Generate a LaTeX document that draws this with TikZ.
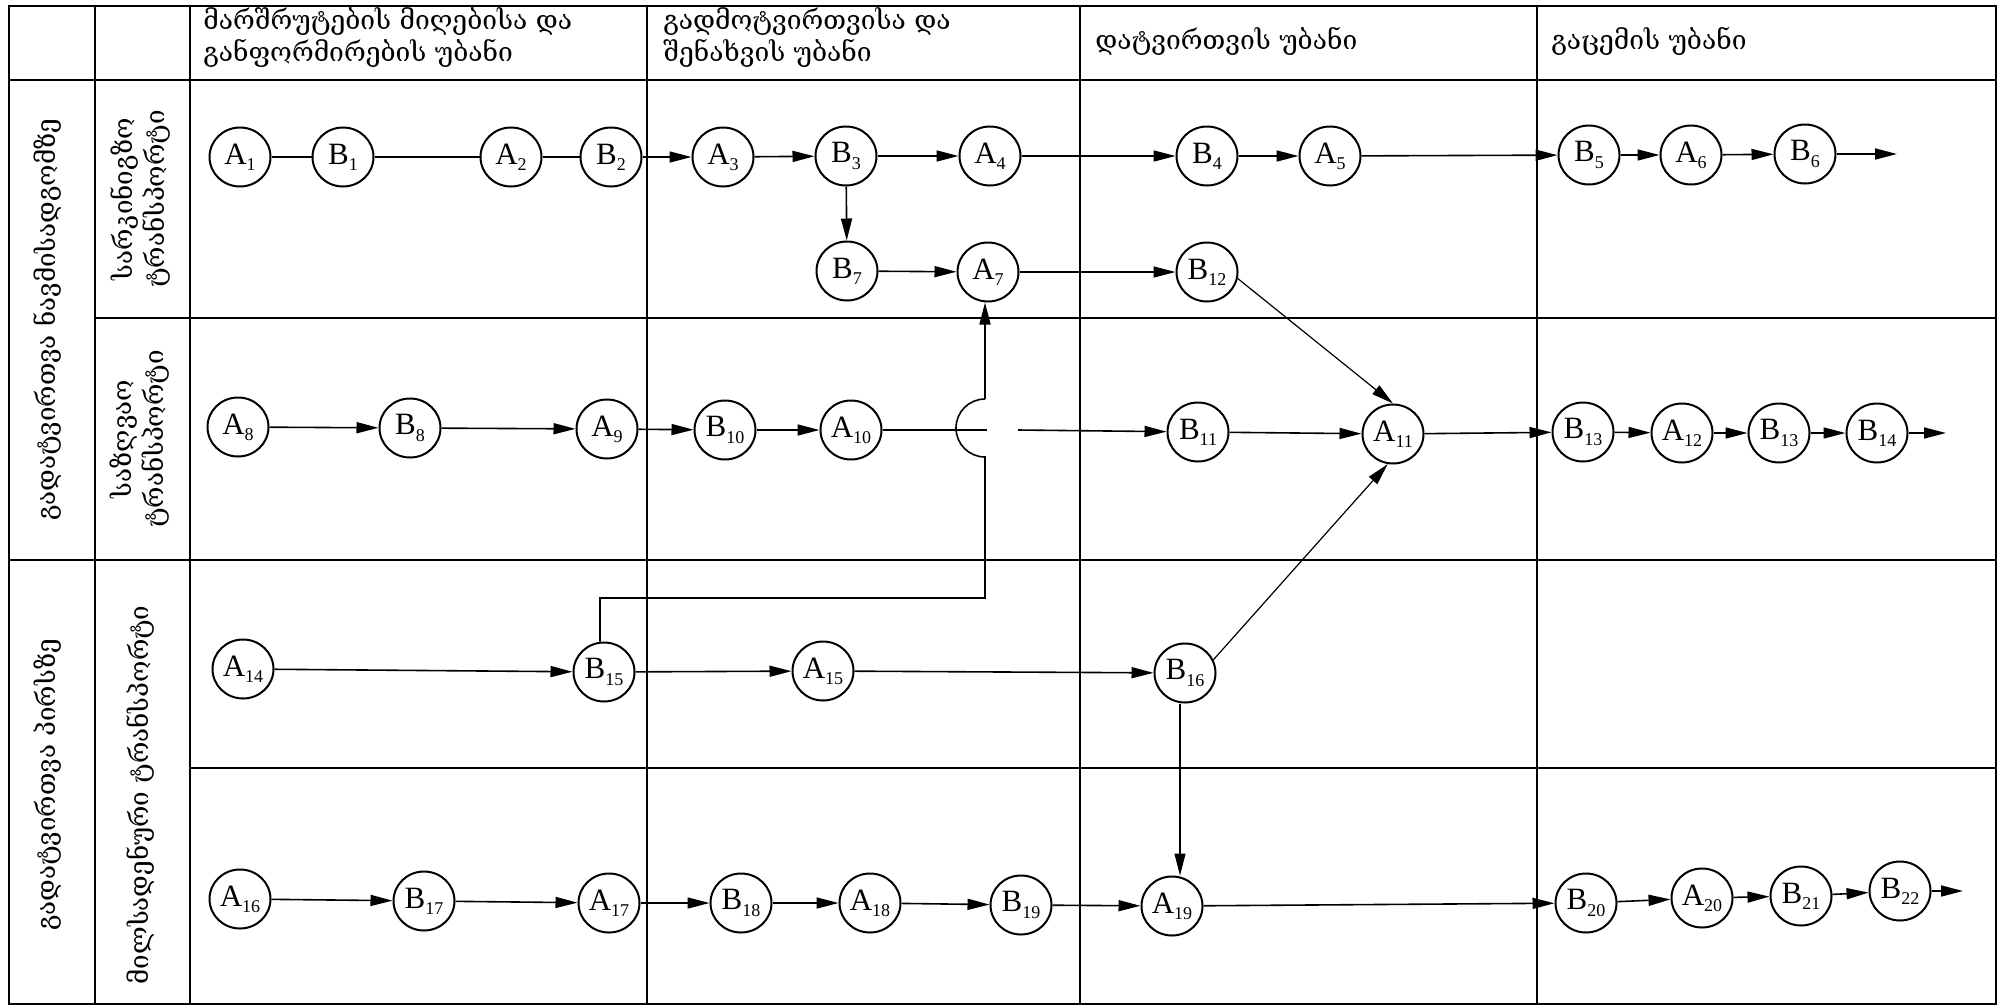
\documentclass[tikz,border=0pt]{standalone}
\usepackage{fontspec}
\setmainfont{Liberation Serif}
\newfontfamily\geo{DejaVu Serif}
\usetikzlibrary{shapes.geometric,arrows.meta}
\newcommand{\lbl}[2]{#1\raisebox{-0.2em}{\fontsize{9}{9}\selectfont #2}}

\begin{document}
\begin{tikzpicture}[x=0.5pt,y=0.5pt,
  nd/.style={ellipse,draw,line width=1pt,minimum width=30.5pt,minimum height=29.5pt,
             inner sep=0pt,font=\fontsize{15.5}{15.5}\selectfont},
  gridline/.style={line width=0.9pt},
  conn/.style={line width=0.8pt},
  arr/.style={conn,-{Triangle[length=11pt,width=5.5pt]}},
  head/.style={anchor=west,align=left,inner sep=0pt,font=\geo\fontsize{13.2}{16}\selectfont},
  side/.style={rotate=90,align=center,inner sep=0pt,font=\geo\fontsize{13}{16}\selectfont}]

\useasboundingbox (0,0) rectangle (2002,-1007);

% table frame
\draw[gridline] (9,-6) rectangle (1996,-1004);
\draw[gridline] (9,-80) -- (1996,-80);
\foreach \x in {95,190,647,1080,1537}
  \draw[gridline] (\x,-6) -- (\x,-1004);
\draw[gridline] (95,-318) -- (1996,-318);
\draw[gridline] (9,-560) -- (1996,-560);
\draw[gridline] (190,-768) -- (1996,-768);

% column headings
\node[head] (h1) at (203,-38) {მარშრუტების მიღებისა და\\განფორმირების უბანი};
\node[head] (h2) at (663,-38) {გადმოტვირთვისა და\\შენახვის უბანი};
\node[head] (h3) at (1095,-41) {დატვირთვის უბანი};
\node[head] (h4) at (1551,-41) {გაცემის უბანი};

% row headings
\node[side] (s1) at (48,-320) {გადატვირთვა ნავმისადგომზე};
\node[side] (s2) at (48,-785) {გადატვირთვა პირსზე};
\node[side] (s3) at (140,-199) {სარკინიგზო\\ტრანსპორტი};
\node[side] (s4) at (140,-439) {საზღვაო\\ტრანსპორტი};
\node[side] (s5) at (140,-795) {მილსადენური ტრანსპორტი};

% railway
\node[nd] (A1) at (240,-157) {\lbl{A}{1}};
\node[nd] (B1) at (343,-157) {\lbl{B}{1}};
\node[nd] (A2) at (511,-157) {\lbl{A}{2}};
\node[nd] (B2) at (611,-157) {\lbl{B}{2}};
\node[nd] (A3) at (723,-157) {\lbl{A}{3}};
\node[nd] (B3) at (846,-156) {\lbl{B}{3}};
\node[nd] (A4) at (990,-156) {\lbl{A}{4}};
\node[nd] (B4) at (1207,-156) {\lbl{B}{4}};
\node[nd] (A5) at (1330,-156) {\lbl{A}{5}};
\node[nd] (B5) at (1589,-155) {\lbl{B}{5}};
\node[nd] (A6) at (1691,-155) {\lbl{A}{6}};
\node[nd] (B6) at (1805,-154) {\lbl{B}{6}};
\coordinate (e1) at (1897,-154);
\node[nd] (B7) at (847,-271) {\lbl{B}{7}};
\node[nd] (A7) at (988,-272) {\lbl{A}{7}};
\node[nd] (B12) at (1207,-272) {\lbl{B}{12}};

% sea
\node[nd] (A8) at (238,-427) {\lbl{A}{8}};
\node[nd] (B8) at (410,-428) {\lbl{B}{8}};
\node[nd] (A9) at (607,-429) {\lbl{A}{9}};
\node[nd] (B10) at (725,-430) {\lbl{B}{10}};
\node[nd] (A10) at (851,-430) {\lbl{A}{10}};
\node[nd] (B11) at (1198,-432) {\lbl{B}{11}};
\node[nd] (A11) at (1393,-434) {\lbl{A}{11}};
\node[nd] (B13) at (1583,-432) {\lbl{B}{13}};
\node[nd] (A12) at (1682,-433) {\lbl{A}{12}};
\node[nd] (B13b) at (1779,-433) {\lbl{B}{13}};
\node[nd] (B14) at (1877,-433) {\lbl{B}{14}};
\coordinate (e2) at (1946,-433);

% pipeline, upper row
\node[nd] (A14) at (243,-669) {\lbl{A}{14}};
\node[nd] (B15) at (604,-672) {\lbl{B}{15}};
\node[nd] (A15) at (823,-671) {\lbl{A}{15}};
\node[nd] (B16) at (1185,-673) {\lbl{B}{16}};

% pipeline, lower row
\node[nd] (A16) at (240,-899) {\lbl{A}{16}};
\node[nd] (B17) at (424,-901) {\lbl{B}{17}};
\node[nd] (A17) at (609,-903) {\lbl{A}{17}};
\node[nd] (B18) at (741,-903) {\lbl{B}{18}};
\node[nd] (A18) at (870,-903) {\lbl{A}{18}};
\node[nd] (B19) at (1021,-905) {\lbl{B}{19}};
\node[nd] (A19) at (1172,-906) {\lbl{A}{19}};
\node[nd] (B20) at (1586,-903) {\lbl{B}{20}};
\node[nd] (A20) at (1702,-898) {\lbl{A}{20}};
\node[nd] (B21) at (1801,-896) {\lbl{B}{21}};
\node[nd] (B22) at (1900,-891) {\lbl{B}{22}};
\coordinate (e3) at (1963,-891);

% railway connectors
\draw[conn] (A1) -- (B1);
\draw[conn] (B1) -- (A2);
\draw[conn] (A2) -- (B2);
\draw[arr] (B2) -- (A3);
\draw[arr] (A3) -- (B3);
\draw[arr] (B3) -- (A4);
\draw[arr] (A4) -- (B4);
\draw[arr] (B4) -- (A5);
\draw[arr] (A5) -- (B5);
\draw[arr] (B5) -- (A6);
\draw[arr] (A6) -- (B6);
\draw[arr] (B6) -- (e1);
\draw[arr] (B3) -- (B7);
\draw[arr] (B7) -- (A7);
\draw[arr] (A7) -- (B12);
\draw[arr,line width=0.6pt] (B12.-12) -- (A11.north);

% sea connectors
\coordinate (gl) at (987,-430);
\coordinate (gr) at (1018,-430);
\draw[arr] (A8) -- (B8);
\draw[arr] (B8) -- (A9);
\draw[arr] (A9) -- (B10);
\draw[arr] (B10) -- (A10);
\draw[conn] (A10) -- (gl);
\draw[arr] (gr) -- (B11);
\draw[arr] (B11) -- (A11);
\draw[arr] (A11) -- (B13);
\draw[arr] (B13) -- (A12);
\draw[arr] (A12) -- (B13b);
\draw[arr] (B13b) -- (B14);
\draw[arr] (B14) -- (e2);

% crossing line from B15 up to A7, hopping over the sea row
\coordinate (c1) at (600,-598);
\coordinate (c2) at (985,-598);
\coordinate (jb) at (985,-457);
\coordinate (jt) at (985,-399);
\draw[conn] (B15.north -| c1) -- (c1) -- (c2) -- (jb)
  arc[start angle=270,end angle=90,radius=29];
\draw[arr] (jt) -- (jt |- A7.south);

% pipeline connectors
\draw[arr] (A14) -- (B15);
\draw[arr] (B15) -- (A15);
\draw[arr] (A15) -- (B16);
\draw[arr,line width=0.6pt] (B16.25) -- (A11.-100);
\draw[arr,line width=0.6pt] (B16.south -| 1180,0) -- (A19.north -| 1180,0);

\draw[arr] (A16) -- (B17);
\draw[arr] (B17) -- (A17);
\draw[arr] (A17) -- (B18);
\draw[arr] (B18) -- (A18);
\draw[arr] (A18) -- (B19);
\draw[arr] (B19) -- (A19);
\draw[arr] (A19) -- (B20);
\draw[arr] (B20) -- (A20);
\draw[arr] (A20) -- (B21);
\draw[arr] (B21) -- (B22);
\draw[arr] (B22) -- (e3);
\end{tikzpicture}
\end{document}
